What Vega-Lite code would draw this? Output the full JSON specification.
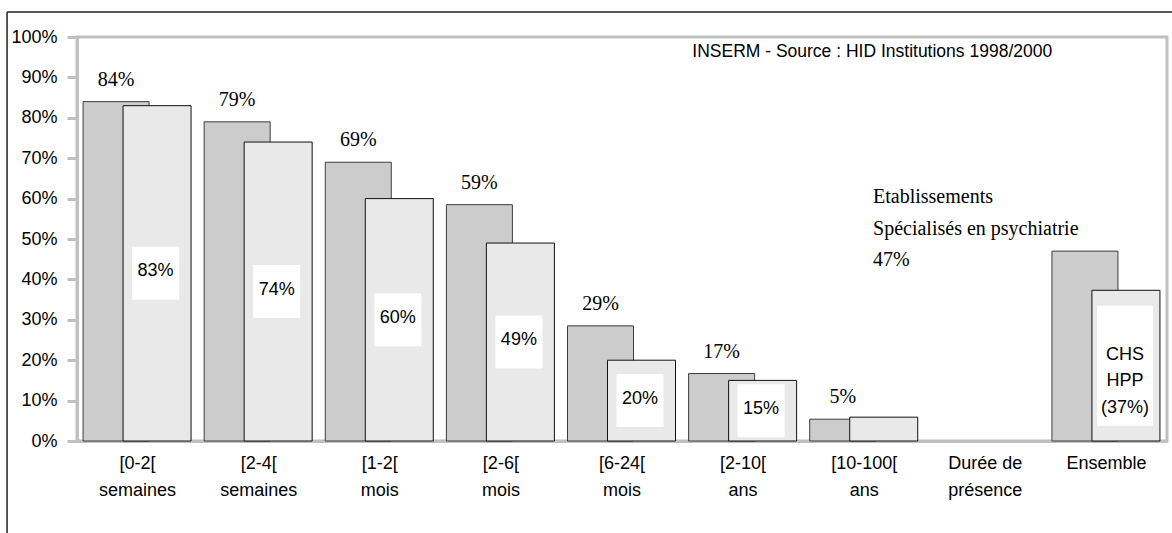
{
  "$schema": "https://vega.github.io/schema/vega-lite/v6.json",
  "width": 1090,
  "height": 404,
  "autosize": {"type": "none"},
  "padding": {"left": 77, "top": 37, "right": 5, "bottom": 92},
  "background": "white",
  "config": {
    "view": {"stroke": "#c0c0c0", "strokeWidth": 3},
    "axis": {"domainColor": "#c0c0c0", "domainWidth": 3, "grid": false, "labelColor": "#000", "labelFont": "Liberation Sans", "labelFontSize": 18}
  },
  "datasets": {
    "d": [
      {"cat": "[0-2[|semaines", "v1": 0.84, "v2": 0.83, "lab1": "84%", "lab2": "83%"},
      {"cat": "[2-4[|semaines", "v1": 0.79, "v2": 0.74, "lab1": "79%", "lab2": "74%"},
      {"cat": "[1-2[|mois", "v1": 0.69, "v2": 0.60, "lab1": "69%", "lab2": "60%"},
      {"cat": "[2-6[|mois", "v1": 0.585, "v2": 0.49, "lab1": "59%", "lab2": "49%"},
      {"cat": "[6-24[|mois", "v1": 0.285, "v2": 0.20, "lab1": "29%", "lab2": "20%"},
      {"cat": "[2-10[|ans", "v1": 0.167, "v2": 0.15, "lab1": "17%", "lab2": "15%"},
      {"cat": "[10-100[|ans", "v1": 0.054, "v2": 0.059, "lab1": "5%", "lab2": ""},
      {"cat": "Durée de|présence", "v1": null, "v2": null, "lab1": "", "lab2": ""},
      {"cat": "Ensemble", "v1": 0.47, "v2": 0.373, "lab1": "Etablissements|Spécialisés en psychiatrie|47%", "lab2": "CHS|HPP|(37%)"}
    ]
  },
  "data": {"name": "d"},
  "resolve": {"scale": {"y": "independent"}},
  "layer": [
    {
      "mark": {"type": "bar", "width": 66, "xOffset": -21.5, "fill": "#cccccc", "stroke": "#3c3c3c", "strokeWidth": 1},
      "encoding": {
        "x": {
          "field": "cat", "type": "nominal", "sort": null,
          "scale": {"domain": ["[0-2[|semaines", "[2-4[|semaines", "[1-2[|mois", "[2-6[|mois", "[6-24[|mois", "[2-10[|ans", "[10-100[|ans", "Durée de|présence", "Ensemble"], "paddingInner": 0, "paddingOuter": 0},
          "axis": {"title": null, "labelAngle": 0, "ticks": false, "labelPadding": 13, "labelLineHeight": 27, "labelExpr": "split(datum.value, '|')"}
        },
        "y": {"field": "v1", "type": "quantitative", "scale": {"domain": [0, 1], "nice": false},
          "axis": {"title": null, "values": [0, 0.1, 0.2, 0.3, 0.4, 0.5, 0.6, 0.7, 0.8, 0.9, 1], "format": ".0%", "tickColor": "#c0c0c0", "tickWidth": 3, "tickSize": 10, "labelPadding": 10}}
      }
    },
    {
      "mark": {"type": "bar", "width": 68, "xOffset": 19.5, "fill": "#e9e9e9", "stroke": "#111111", "strokeWidth": 1},
      "encoding": {
        "x": {"field": "cat", "type": "nominal", "sort": null},
        "y": {"field": "v2", "type": "quantitative", "scale": {"domain": [0, 1], "nice": false}, "axis": null}
      }
    },
    {
      "transform": [{"filter": "datum.lab2 != '' && datum.cat != 'Ensemble'"}],
      "mark": {"type": "point", "shape": "M-0.887,-1L0.887,-1L0.887,1L-0.887,1Z", "size": 2809, "filled": true, "fill": "white", "opacity": 1, "strokeWidth": 0, "xOffset": 18},
      "encoding": {
        "x": {"field": "cat", "type": "nominal", "sort": null},
        "y": {"field": "v2", "type": "quantitative", "scale": {"domain": [0, 2], "nice": false}, "axis": null}
      }
    },
    {
      "transform": [{"filter": "datum.cat == 'Ensemble'"}],
      "mark": {"type": "point", "shape": "M-0.467,-1L0.467,-1L0.467,1L-0.467,1Z", "size": 14400, "filled": true, "fill": "white", "opacity": 1, "strokeWidth": 0, "xOffset": 18.5},
      "encoding": {
        "x": {"field": "cat", "type": "nominal", "sort": null},
        "y": {"field": "v2", "type": "quantitative", "scale": {"domain": [0, 2], "nice": false}, "axis": null}
      }
    },
    {
      "transform": [{"filter": "datum.lab2 != '' && datum.cat != 'Ensemble'"}],
      "mark": {"type": "text", "font": "Liberation Sans", "fontSize": 18, "color": "#000", "dx": 18, "dy": -2, "baseline": "middle"},
      "encoding": {
        "x": {"field": "cat", "type": "nominal", "sort": null},
        "y": {"field": "v2", "type": "quantitative", "scale": {"domain": [0, 2], "nice": false}, "axis": null},
        "text": {"field": "lab2"}
      }
    },
    {
      "transform": [{"filter": "datum.cat == 'Ensemble'"}],
      "mark": {"type": "text", "font": "Liberation Sans", "fontSize": 18, "color": "#000", "dx": 18.5, "dy": -11, "baseline": "middle", "lineBreak": "|", "lineHeight": 26.5},
      "encoding": {
        "x": {"field": "cat", "type": "nominal", "sort": null},
        "y": {"field": "v2", "type": "quantitative", "scale": {"domain": [0, 2], "nice": false}, "axis": null},
        "text": {"field": "lab2"}
      }
    },
    {
      "transform": [{"filter": "datum.lab1 != '' && datum.cat != 'Ensemble'"}],
      "mark": {"type": "text", "font": "Liberation Serif", "fontSize": 20, "color": "#000", "dx": -21.5, "dy": -22, "baseline": "middle"},
      "encoding": {
        "x": {"field": "cat", "type": "nominal", "sort": null},
        "y": {"field": "v1", "type": "quantitative", "scale": {"domain": [0, 1], "nice": false}, "axis": null},
        "text": {"field": "lab1"}
      }
    },
    {
      "transform": [{"filter": "datum.cat == 'Ensemble'"}],
      "mark": {"type": "text", "font": "Liberation Serif", "fontSize": 20, "color": "#000", "align": "left", "dx": -233.4, "dy": -54, "baseline": "middle", "lineBreak": "|", "lineHeight": 31.5},
      "encoding": {
        "x": {"field": "cat", "type": "nominal", "sort": null},
        "y": {"field": "v1", "type": "quantitative", "scale": {"domain": [0, 1], "nice": false}, "axis": null},
        "text": {"field": "lab1"}
      }
    },
    {
      "data": {"values": [{"t": "INSERM - Source : HID Institutions 1998/2000"}]},
      "mark": {"type": "text", "font": "Liberation Sans", "fontSize": 17.5, "color": "#000", "dx": 8, "baseline": "middle"},
      "encoding": {
        "x": {"datum": "[10-100[|ans"},
        "y": {"datum": 0.963, "type": "quantitative", "scale": {"domain": [0, 1], "nice": false}, "axis": null},
        "text": {"field": "t"}
      }
    },
    {
      "data": {"values": [{"frame": "top"}]},
      "mark": {"type": "rule", "color": "#222", "strokeWidth": 1.5, "xOffset": -130.5, "x2Offset": 70},
      "encoding": {
        "x": {"datum": "[0-2[|semaines"},
        "x2": {"datum": "Ensemble"},
        "y": {"datum": 1.0619, "type": "quantitative", "scale": {"domain": [0, 1], "nice": false}, "axis": null}
      }
    },
    {
      "data": {"values": [{"frame": "left"}]},
      "mark": {"type": "rule", "color": "#222", "strokeWidth": 1.5, "xOffset": -130.5},
      "encoding": {
        "x": {"datum": "[0-2[|semaines"},
        "y": {"datum": 1.0619, "type": "quantitative", "scale": {"domain": [0, 1], "nice": false}, "axis": null},
        "y2": {"datum": -0.3}
      }
    }
  ]
}
